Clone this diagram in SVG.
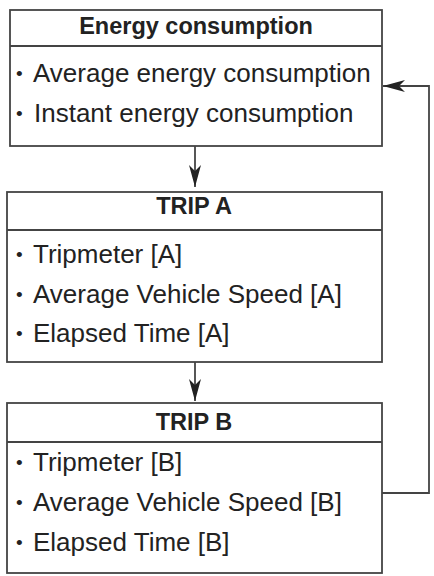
<svg xmlns="http://www.w3.org/2000/svg" width="434" height="576" viewBox="0 0 434 576">
<style>
.box{fill:#fff;stroke:#444;stroke-width:1.8}
.div{stroke:#444;stroke-width:1.8}
.title{font-family:"Liberation Sans",Arial,sans-serif;font-weight:bold;font-size:23.5px;fill:#222;text-anchor:middle}
.item{font-family:"Liberation Sans",Arial,sans-serif;font-size:26px;fill:#222}
.b{font-size:19px;baseline-shift:2.5px}
.conn{fill:none;stroke:#444;stroke-width:1.8}
</style>
<defs>
<marker id="arr" viewBox="0 0 22 13" refX="22" refY="6.5" markerWidth="22" markerHeight="13" markerUnits="userSpaceOnUse" orient="auto">
<path d="M0,0.5 L22,6.5 L0,12.5 L6,6.5 Z" fill="#222"/>
</marker>
</defs>
<g id="energy">
<rect class="box" x="10" y="10" width="372" height="136"/>
<line class="div" x1="10" y1="46" x2="382" y2="46"/>
<text class="title" x="196" y="34">Energy consumption</text>
<text class="item" y="82"><tspan class="b" x="16">•</tspan><tspan x="33">Average energy consumption</tspan></text>
<text class="item" y="122"><tspan class="b" x="16">•</tspan><tspan x="34">Instant energy consumption</tspan></text>
</g>
<g id="tripA">
<rect class="box" x="7" y="192" width="375" height="170"/>
<line class="div" x1="7" y1="230" x2="382" y2="230"/>
<text class="title" x="194" y="214">TRIP A</text>
<text class="item" y="263"><tspan class="b" x="16">•</tspan><tspan x="33">Tripmeter [A]</tspan></text>
<text class="item" y="303"><tspan class="b" x="16">•</tspan><tspan x="33">Average Vehicle Speed [A]</tspan></text>
<text class="item" y="342"><tspan class="b" x="16">•</tspan><tspan x="33">Elapsed Time [A]</tspan></text>
</g>
<g id="tripB">
<rect class="box" x="7" y="403" width="375" height="170"/>
<line class="div" x1="7" y1="442" x2="382" y2="442"/>
<text class="title" x="194" y="430">TRIP B</text>
<text class="item" y="471"><tspan class="b" x="16">•</tspan><tspan x="33">Tripmeter [B]</tspan></text>
<text class="item" y="511"><tspan class="b" x="16">•</tspan><tspan x="33">Average Vehicle Speed [B]</tspan></text>
<text class="item" y="551"><tspan class="b" x="16">•</tspan><tspan x="33">Elapsed Time [B]</tspan></text>
</g>
<g id="connectors">
<line class="conn" x1="195" y1="146" x2="195" y2="187" marker-end="url(#arr)"/>
<line class="conn" x1="195" y1="362" x2="195" y2="401" marker-end="url(#arr)"/>
<polyline class="conn" points="382,493 429,493 429,86 383,86" marker-end="url(#arr)"/>
</g>
</svg>
